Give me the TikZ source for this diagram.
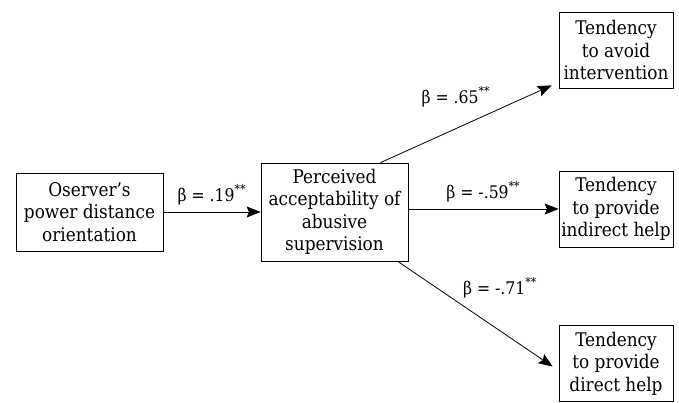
\documentclass[tikz,border=0pt]{standalone}
\usepackage{fontspec}
\setmainfont{DejaVu Serif Condensed}
\usepackage{tikz}
\usetikzlibrary{arrows.meta,positioning}

\begin{document}
\begin{tikzpicture}[>={Stealth[length=7pt,width=5.5pt,inset=1.2pt]}, x=0.5pt, y=-0.5pt,
    box/.style={draw, thin, align=center, inner sep=1pt,
      font=\fontsize{9.4}{11.2}\selectfont},
    coef/.style={font=\fontsize{8.7}{10}\selectfont}]
  \useasboundingbox (0,0) rectangle (679,402);
  \node[box, minimum width=73.5pt, minimum height=39pt] (obs) at (89.5,212)
    {Oserver's\\power distance\\orientation};
  \node[box, minimum width=73.5pt, minimum height=49pt] (pas) at (334.5,212)
    {Perceived\\acceptability of\\abusive\\supervision};
  \node[box, minimum width=57pt, minimum height=38pt] (avoid) at (616,50)
    {Tendency\\to avoid\\intervention};
  \node[box, minimum width=57pt, minimum height=38pt] (indirect) at (616,209)
    {Tendency\\to provide\\indirect help};
  \node[box, minimum width=57pt, minimum height=38pt] (direct) at (616,363.5)
    {Tendency\\to provide\\direct help};
  \draw[->] (obs.east) -- (obs.east -| pas.west)
    node[coef, midway, above] {β = .19\textsuperscript{**}};
  \draw[->] (pas.47) -- ([xshift=-3.5pt, yshift=1.5pt]avoid.south west)
    node[coef, pos=0.5, xshift=-5pt, yshift=13.5pt] {β = .65\textsuperscript{**}};
  \draw[->] (pas.east |- indirect.west) -- (indirect.west)
    node[coef, midway, above] {β = -.59\textsuperscript{**}};
  \draw[->] (pas.-38) -- ([xshift=-3pt, yshift=-1.5pt]direct.west)
    node[coef, pos=0.5, xshift=12.5pt, yshift=13pt] {β = -.71\textsuperscript{**}};
\end{tikzpicture}
\end{document}
